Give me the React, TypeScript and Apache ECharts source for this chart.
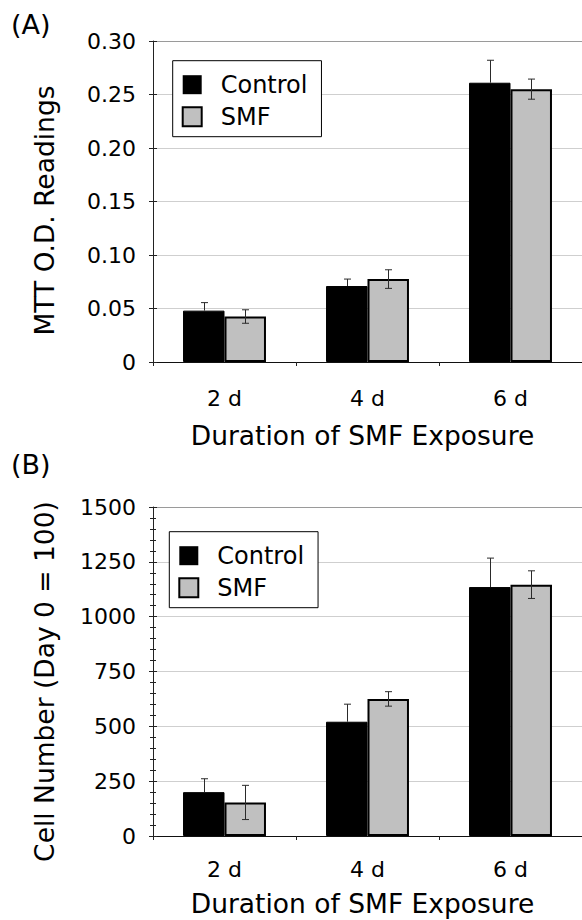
import React, { useEffect, useRef } from 'react';
import * as echarts from 'echarts';

// ---- data ----
const categories = ['2 d', '4 d', '6 d'];
const seriesNames = ['Control', 'SMF'];

const mttControl = [0.048, 0.071, 0.261];
const mttControlErr = [0.0075, 0.0065, 0.021];
const mttSMF = [0.0425, 0.0775, 0.255];
const mttSMFErr = [0.0063, 0.0087, 0.0094];

const cellControl = [200, 521, 1135];
const cellControlErr = [61, 80, 132];
const cellSMF = [153, 625, 1146];
const cellSMFErr = [78, 33, 63];

const mttAxis = { min: 0, max: 0.3, interval: 0.05 };
const cellAxis = { min: 0, max: 1500, interval: 250 };

const panelLabels = ['(A)', '(B)'];
const yTitles = ['MTT O.D. Readings', 'Cell Number (Day 0 = 100)'];
const xTitle = 'Duration of SMF Exposure';

// ---- style ----
const FONT = 'DejaVu Sans';
const BAR_FRAC = 0.29;
const CONTROL_COLOR = '#000000';
const SMF_COLOR = '#c0c0c0';
const GRID_COLOR = '#cfcfcf';
const TOP_COLOR = '#9a9a9a';

function errorSeries(name: string, values: number[], errs: number[], axisIndex: number, side: number, upperOnly: boolean) {
  return {
    type: 'custom',
    name,
    xAxisIndex: axisIndex,
    yAxisIndex: axisIndex,
    z: 5,
    silent: true,
    encode: { x: 0, y: 1 },
    data: values.map((v, i) => [i, v, errs[i]]),
    renderItem: (params: any, api: any) => {
      const i = api.value(0);
      const v = api.value(1);
      const e = api.value(2);
      const band = api.size([1, 0])[0];
      const dx = (side * band * BAR_FRAC) / 2;
      const hi = api.coord([i, v + e]);
      const lo = api.coord([i, upperOnly ? v : v - e]);
      const x = Math.round(hi[0] + dx) + 0.5;
      const cap = 3.5;
      const st = { stroke: '#2a2a2a', lineWidth: 1 };
      const children: any[] = [
        { type: 'line', shape: { x1: x, y1: hi[1], x2: x, y2: lo[1] }, style: st },
        { type: 'line', shape: { x1: x - cap, y1: hi[1], x2: x + cap, y2: hi[1] }, style: st },
      ];
      if (!upperOnly) {
        children.push({ type: 'line', shape: { x1: x - cap, y1: lo[1], x2: x + cap, y2: lo[1] }, style: st });
      }
      return { type: 'group', children };
    },
  };
}

function barSeries(name: string, values: number[], axisIndex: number, color: string, bw: number) {
  return {
    type: 'bar',
    name,
    xAxisIndex: axisIndex,
    yAxisIndex: axisIndex,
    barWidth: BAR_FRAC * 100 + '%',
    barGap: '0%',
    data: values,
    itemStyle: { color, borderColor: '#000', borderWidth: bw },
    z: 2,
  };
}

function splitColors(n: number) {
  const arr: string[] = [];
  for (let i = 0; i < n; i++) arr.push(i === n - 1 ? TOP_COLOR : GRID_COLOR);
  return arr;
}

function mainYAxis(gridIndex: number, ax: any, title: string, fmt: (v: number) => string, minor: boolean, titleShift: number) {
  const n = Math.round((ax.max - ax.min) / ax.interval) + 1;
  return {
    type: 'value',
    gridIndex,
    position: 'left',
    min: ax.min,
    max: ax.max,
    interval: ax.interval,
    name: title,
    nameLocation: 'middle',
    nameRotate: 90,
    nameGap: 95,
    nameTextStyle: { fontFamily: FONT, fontSize: 26.5, color: '#000', padding: [0, titleShift, 0, 0] },
    axisLine: { show: true, lineStyle: { color: '#222', width: 1 } },
    axisTick: { show: true, inside: false, length: 4, lineStyle: { color: '#222' } },
    minorTick: { show: minor, splitNumber: 5, length: 3, lineStyle: { color: '#222' } },
    splitLine: { show: true, lineStyle: { color: splitColors(n), width: 1 } },
    axisLabel: {
      fontFamily: FONT,
      fontSize: 22,
      color: '#000',
      margin: 17,
      padding: [10, 0, 0, 0],
      formatter: fmt,
    },
  };
}

function innerYAxis(gridIndex: number, ax: any, minor: boolean) {
  return {
    type: 'value',
    gridIndex,
    position: 'left',
    offset: 0,
    min: ax.min,
    max: ax.max,
    interval: ax.interval,
    axisLine: { show: false },
    axisTick: { show: true, inside: true, length: 4, lineStyle: { color: '#222' } },
    minorTick: { show: minor, splitNumber: 5, length: 3, lineStyle: { color: '#222' } },
    splitLine: { show: false },
    axisLabel: { show: false },
  };
}

function xAxis(gridIndex: number, labelMargin: number, nameGap: number) {
  return {
    type: 'category',
    gridIndex,
    data: categories,
    name: xTitle,
    nameLocation: 'middle',
    nameGap,
    nameTextStyle: { fontFamily: FONT, fontSize: 26.5, color: '#000', padding: [0, 10, 0, 0] },
    axisLine: { show: true, lineStyle: { color: '#111', width: 1 } },
    axisTick: { show: true, length: 4, alignWithLabel: false, lineStyle: { color: '#222' } },
    axisLabel: { fontFamily: FONT, fontSize: 22, color: '#000', margin: labelMargin },
  };
}

function legend(left: number, top: number) {
  return {
    left,
    top,
    orient: 'vertical',
    itemWidth: 19,
    itemHeight: 19,
    itemGap: 8,
    padding: [12, 14, 8, 9],
    borderColor: '#000',
    borderWidth: 1,
    backgroundColor: '#fff',
    icon: 'rect',
    selectedMode: false,
    formatter: '{t|{name}}',
    textStyle: {
      fontFamily: FONT,
      fontSize: 24,
      color: '#000',
      rich: { t: { fontFamily: FONT, fontSize: 24, color: '#000', lineHeight: 19, padding: [0, 0, 0, 14] } },
    },
    data: [
      { name: seriesNames[0], itemStyle: { color: CONTROL_COLOR, borderColor: '#000', borderWidth: 0 } },
      { name: seriesNames[1], itemStyle: { color: SMF_COLOR, borderColor: '#000', borderWidth: 2 } },
    ],
  };
}

export default function App() {
  const ref = useRef<HTMLDivElement>(null);
  useEffect(() => {
    if (!ref.current) return;
    const chart = echarts.init(ref.current, null, { renderer: 'svg' });
    const mttFmt = (v: number) => (v === 0 ? '0' : v.toFixed(2));
    const cellFmt = (v: number) => String(v);
    chart.setOption({
      animation: false,
      backgroundColor: '#fff',
      textStyle: { fontFamily: FONT },
      grid: [
        { left: 153, top: 41, width: 430.5, height: 321 },
        { left: 153, top: 507, width: 430.5, height: 329 },
      ],
      xAxis: [xAxis(0, 25, 60), xAxis(1, 22, 54)],
      yAxis: [
        mainYAxis(0, mttAxis, yTitles[0], mttFmt, false, 18),
        mainYAxis(1, cellAxis, yTitles[1], cellFmt, true, 20),
        innerYAxis(0, mttAxis, false),
        innerYAxis(1, cellAxis, true),
      ],
      legend: [legend(172.7, 60.7), legend(169.3, 531.7)],
      graphic: [
        { type: 'text', left: 11, top: 11, style: { text: panelLabels[0], fontFamily: FONT, fontSize: 27, fill: '#000' } },
        { type: 'text', left: 11, top: 451, style: { text: panelLabels[1], fontFamily: FONT, fontSize: 27, fill: '#000' } },
      ],
      series: [
        barSeries(seriesNames[0], mttControl, 0, CONTROL_COLOR, 1),
        barSeries(seriesNames[1], mttSMF, 0, SMF_COLOR, 2),
        barSeries(seriesNames[0], cellControl, 1, CONTROL_COLOR, 1),
        barSeries(seriesNames[1], cellSMF, 1, SMF_COLOR, 2),
        errorSeries(seriesNames[0], mttControl, mttControlErr, 0, -1, true),
        errorSeries(seriesNames[1], mttSMF, mttSMFErr, 0, 1, false),
        errorSeries(seriesNames[0], cellControl, cellControlErr, 1, -1, true),
        errorSeries(seriesNames[1], cellSMF, cellSMFErr, 1, 1, false),
      ],
    });
    return () => chart.dispose();
  }, []);
  return (
    <div
      ref={ref}
      style={{ position: 'fixed', left: 0, top: 0, width: 582, height: 920, background: '#fff' }}
    />
  );
}
